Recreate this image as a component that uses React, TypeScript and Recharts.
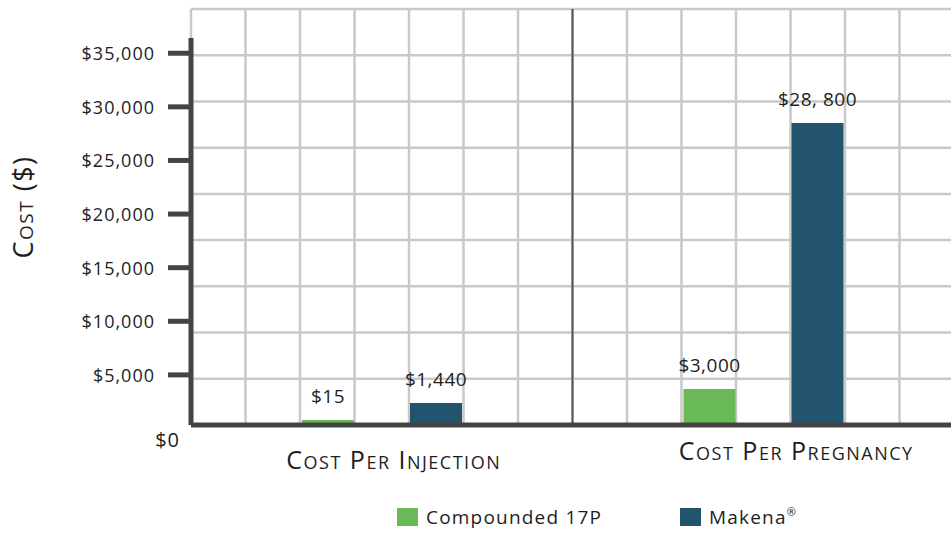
import { BarChart, Bar, XAxis, YAxis, CartesianGrid, ReferenceLine, LabelList, Label } from 'recharts';

// categories and values (bar heights as drawn, labels as printed)
const categories = ['Cost Per Injection', 'Cost Per Pregnancy'];
const compoundedValues = [470, 3360];
const makenaValues = [2050, 28170];
const compoundedLabels = ['$15', '$3,000'];
const makenaLabels = ['$1,440', '$28, 800'];
const yTicks = [0, 5000, 10000, 15000, 20000, 25000, 30000, 35000];
const gridCols = [0, 1, 2, 3, 4, 5, 6, 7, 8, 9, 10, 11, 12, 13, 14];
const gridRows = [0, 1, 2, 3, 4, 5, 6, 7, 8, 9];

const series = [
  { key: 'compounded', name: 'Compounded 17P', color: '#6ab957', labels: compoundedLabels },
  { key: 'makena', name: 'Makena', color: '#23546d', labels: makenaLabels },
];

const data = categories.map((name, i) => ({
  name,
  compounded: compoundedValues[i],
  makena: makenaValues[i],
}));

const FONT = '"Open Sans", sans-serif';
const AXIS = '#444';
const TEXT = '#1e1e1e';

const fmtMoney = (v: number) => '$' + v.toLocaleString('en-US');

function YTick({ x, y, payload }: any) {
  if (payload.value === 0) {
    return (
      <text x={x - 11} y={y + 22} textAnchor="end" fontSize={20} fill={TEXT} fontFamily={FONT} letterSpacing={1}>
        $0
      </text>
    );
  }
  const ty = y + 3.5;
  return (
    <g>
      <line x1={x - 23} x2={x} y1={ty} y2={ty} stroke={AXIS} strokeWidth={5} />
      <text x={x - 36} y={ty + 7} textAnchor="end" fontSize={18} fill={TEXT} fontFamily={FONT} letterSpacing={1}>
        {fmtMoney(payload.value)}
      </text>
    </g>
  );
}

// small nudges so the category captions sit where the original put them
const catNudge = [
  { dx: 12, dy: 44 },
  { dx: 33, dy: 35 },
];

function XTick({ x, y, payload, index }: any) {
  const n = catNudge[index] || { dx: 0, dy: 40 };
  return (
    <text
      x={x + n.dx}
      y={y + n.dy}
      textAnchor="middle"
      fontSize={25}
      fill={TEXT}
      fontFamily={FONT}
      letterSpacing={1.5}
      style={{ fontVariant: 'small-caps' }}
    >
      {payload.value}
    </text>
  );
}

function YLabel({ viewBox }: any) {
  const cx = viewBox.x + 33;
  const cy = viewBox.y + viewBox.height / 2 - 10;
  return (
    <text
      x={cx}
      y={cy}
      transform={`rotate(-90, ${cx}, ${cy})`}
      textAnchor="middle"
      fontSize={27}
      fill={TEXT}
      fontFamily={FONT}
      letterSpacing={1.5}
      style={{ fontVariant: 'small-caps' }}
    >
      Cost ($)
    </text>
  );
}

const makeBarLabel = (labels: string[]) => (props: any) => {
  const { x, y, width, index } = props;
  return (
    <text x={x + width / 2} y={y - 17} textAnchor="middle" fontSize={19} fill={TEXT} fontFamily={FONT} letterSpacing={0.5}>
      {labels[index]}
    </text>
  );
};

function ChartLegend() {
  return (
    <div
      style={{
        position: 'absolute',
        left: 397,
        top: 507,
        height: 20,
        display: 'flex',
        fontFamily: FONT,
        fontSize: 19,
        lineHeight: '20px',
        color: TEXT,
        letterSpacing: 1.2,
      }}
    >
      {series.map((s) => (
        <div key={s.key} style={{ display: 'flex', alignItems: 'center', width: 283 }}>
          <span style={{ display: 'inline-block', width: 21, height: 18, background: s.color, marginRight: 8 }} />
          <span>
            {s.name}
            {s.key === 'makena' && <sup style={{ fontSize: 11, lineHeight: 0, position: 'relative', top: -1 }}>®</sup>}
          </span>
        </div>
      ))}
    </div>
  );
}

const colLines = ({ offset }: any) => gridCols.map((i) => offset.left + (i * offset.width) / 14);
const rowLines = ({ offset }: any) => gridRows.map((i) => offset.top + (i * offset.height) / 9);
const midLine = ({ offset }: any) => [offset.left + offset.width / 2];

export default function App() {
  return (
    <div style={{ position: 'fixed', left: 0, top: 0, width: 951, height: 537, overflow: 'hidden', background: '#fff' }}>
      <div style={{ width: 960, height: 537 }}>
        <BarChart
          width={960}
          height={537}
          data={data}
          margin={{ top: 9, right: 6, left: 0, bottom: 52 }}
          barSize={52}
          barGap={56}
        >
          <XAxis xAxisId="grid" type="number" domain={[0, 14]} allowDataOverflow hide />
          <CartesianGrid
            stroke="#c9c9c9"
            strokeWidth={2.5}
            verticalCoordinatesGenerator={colLines}
            horizontalCoordinatesGenerator={rowLines}
          />
          <CartesianGrid horizontal={false} stroke="#555" strokeWidth={2} verticalCoordinatesGenerator={midLine} />
          <XAxis
            dataKey="name"
            height={60}
            axisLine={{ stroke: AXIS, strokeWidth: 5 }}
            tickLine={false}
            tickSize={0}
            tickMargin={0}
            tick={<XTick />}
            interval={0}
          />
          <YAxis
            type="number"
            domain={[0, 38800]}
            ticks={yTicks}
            width={191}
            axisLine={false}
            tickLine={false}
            tickSize={0}
            tickMargin={0}
            tick={<YTick />}
            interval={0}
          >
            <Label content={<YLabel />} />
          </YAxis>
          <ReferenceLine
            xAxisId="grid"
            segment={[{ x: 0, y: 0 }, { x: 0, y: 36100 }]}
            stroke={AXIS}
            strokeWidth={5}
            ifOverflow="visible"
          />
          {series.map((s) => (
            <Bar key={s.key} dataKey={s.key} name={s.name} fill={s.color} isAnimationActive={false}>
              <LabelList dataKey={s.key} content={makeBarLabel(s.labels)} />
            </Bar>
          ))}
        </BarChart>
      </div>
      <ChartLegend />
    </div>
  );
}
